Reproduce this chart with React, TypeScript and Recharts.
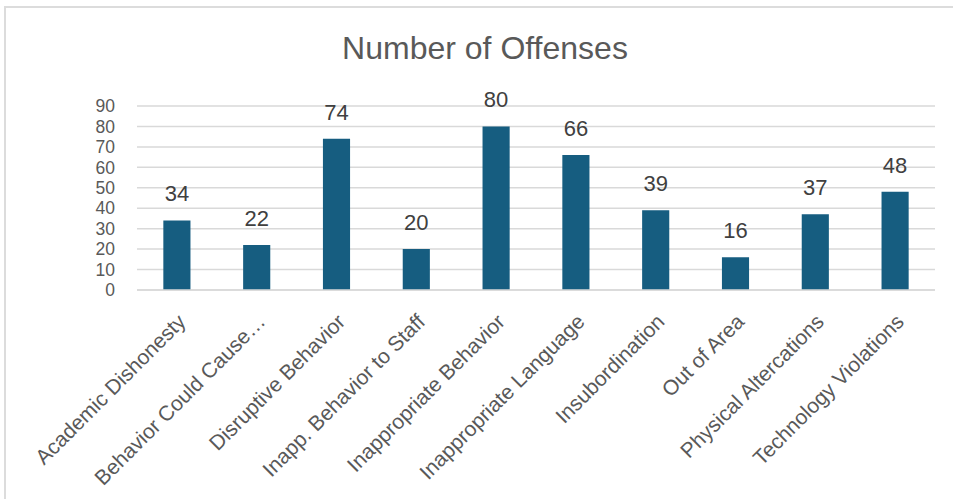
import React from 'react';
import { BarChart, Bar, XAxis, YAxis, CartesianGrid, LabelList } from 'recharts';

const categories = [
  'Academic Dishonesty',
  'Behavior Could Cause…',
  'Disruptive Behavior',
  'Inapp. Behavior to Staff',
  'Inappropriate Behavior',
  'Inappropriate Language',
  'Insubordination',
  'Out of Area',
  'Physical Altercations',
  'Technology Violations',
];
const offenses = [34, 22, 74, 20, 80, 66, 39, 16, 37, 48];
const yTicks = [0, 10, 20, 30, 40, 50, 60, 70, 80, 90];
const title = 'Number of Offenses';

const data = categories.map((c, i) => ({ name: c, value: offenses[i] }));

const FONT = '"Liberation Sans", Arial, sans-serif';

const XTick = (props: any) => {
  const { x, y, payload } = props;
  return (
    <g transform={`translate(${x + 10},${y + 33})`}>
      <text
        x={0}
        y={0}
        textAnchor="end"
        transform="rotate(-45)"
        fill="#595959"
        fontSize={21}
        fontFamily={FONT}
      >
        {payload.value}
      </text>
    </g>
  );
};

export default function App() {
  return (
    <div style={{ position: 'absolute', left: 0, top: 0, width: 953, height: 499, background: '#fff', overflow: 'hidden', fontFamily: FONT }}>
      <div
        style={{
          position: 'absolute',
          left: 4,
          top: 6,
          width: 980,
          height: 520,
          border: '2px solid #dcdcdc',
          boxSizing: 'border-box',
        }}
      />
      <div
        style={{
          position: 'absolute',
          left: 0,
          width: 970,
          top: 28,
          textAlign: 'center',
          fontSize: 32,
          color: '#595959',
          lineHeight: '40px',
        }}
      >
        {title}
      </div>
      <div style={{ position: 'absolute', left: 0, top: 0 }}>
        <BarChart
          width={953}
          height={499}
          data={data}
          margin={{ top: 106, right: 18, bottom: 208, left: 97 }}
          barCategoryGap="67%"
        >
          <CartesianGrid vertical={false} stroke="#d9d9d9" strokeWidth={1.5} />
          <XAxis
            dataKey="name"
            interval={0}
            tickLine={false}
            tickSize={0}
            tickMargin={0}
            axisLine={{ stroke: '#d9d9d9', strokeWidth: 1.5 }}
            tick={<XTick />}
            height={1}
          />
          <YAxis
            domain={[0, 90]}
            ticks={yTicks}
            interval={0}
            width={40}
            axisLine={false}
            tickLine={false}
            tickSize={0}
            tickMargin={22}
            tick={{ fill: '#595959', fontSize: 17.5, fontFamily: FONT }}
          />
          <Bar dataKey="value" fill="#165d80" isAnimationActive={false}>
            <LabelList
              dataKey="value"
              position="top"
              offset={19}
              fill="#404040"
              fontSize={22}
              fontFamily={FONT}
            />
          </Bar>
        </BarChart>
      </div>
    </div>
  );
}
